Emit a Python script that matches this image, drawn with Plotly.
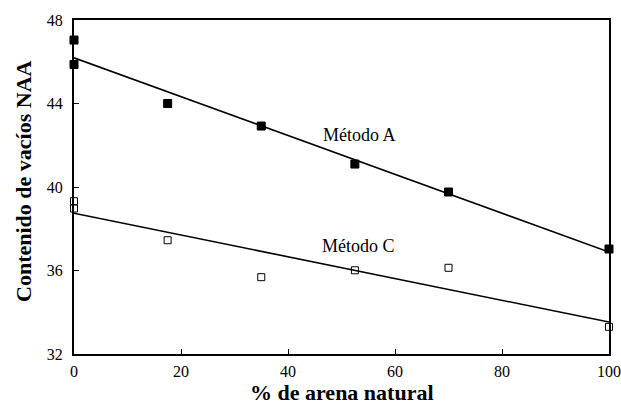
import numpy as np
import plotly.graph_objects as go

# % de arena natural
arena = [0, 0, 17.5, 35, 52.5, 70, 100]
# Contenido de vacios NAA
metodo_a = [47.04, 45.87, 44.0, 42.92, 41.1, 39.76, 37.03]
metodo_c = [39.32, 38.97, 37.45, 35.68, 36.01, 36.13, 33.3]

x_ticks = [0, 20, 40, 60, 80, 100]
y_ticks = [32, 36, 40, 44, 48]

serif = "Liberation Serif"


def trend(x, y):
    slope, icpt = np.polyfit(x, y, 1)
    xs = np.array([0, 100])
    return xs, slope * xs + icpt


fig = go.Figure()

for ys, sym in [(metodo_a, "square"), (metodo_c, "square-open")]:
    tx, ty = trend(arena, ys)
    fig.add_trace(go.Scatter(x=tx, y=ty, mode="lines",
                             line=dict(color="black", width=1.6),
                             showlegend=False, hoverinfo="skip"))
    fig.add_trace(go.Scatter(
        x=arena, y=ys, mode="markers", showlegend=False, cliponaxis=False,
        marker=dict(symbol=sym, size=8 if sym == "square" else 7,
                    color="black", line=dict(color="black", width=1)),
    ))

fig.add_annotation(x=53.3, y=42.5, text="Método A", showarrow=False,
                   font=dict(family=serif, size=18, color="black"))
fig.add_annotation(x=53.1, y=37.15, text="Método C", showarrow=False,
                   font=dict(family=serif, size=18, color="black"))

# axis titles as paper annotations
fig.add_annotation(xref="paper", yref="paper", x=0.5, y=0, yshift=-38,
                   xanchor="center", yanchor="middle",
                   text="<b>% de arena natural</b>", showarrow=False,
                   font=dict(family=serif, size=22, color="black"))
fig.add_annotation(xref="paper", yref="paper", x=0, y=0.518, xshift=-50,
                   xanchor="center", yanchor="middle",
                   text="<b>Contenido de vacíos NAA</b>", showarrow=False,
                   textangle=-90,
                   font=dict(family=serif, size=22, color="black"))

axis_common = dict(
    showgrid=False, zeroline=False, showline=True, mirror=True,
    linecolor="black", linewidth=2, ticks="inside", ticklen=5,
    tickcolor="black", tickwidth=1, automargin=False,
    tickfont=dict(family=serif, size=16, color="black"),
)

fig.update_layout(
    width=621, height=417,
    margin=dict(l=74, r=12, t=20, b=63),
    paper_bgcolor="white", plot_bgcolor="white",
    font=dict(family=serif, color="black"),
    xaxis=dict(axis_common, range=[0, 100], tickvals=x_ticks,
               ticklabelstandoff=2),
    yaxis=dict(axis_common, range=[32, 48], tickvals=y_ticks,
               ticklabelstandoff=6),
)

# drop the default body margin so the figure fills the window exactly
fig.write_html("out.html", config={"displayModeBar": False},
               post_script="document.body.style.margin='0';"
                           "document.body.style.overflow='hidden';")
